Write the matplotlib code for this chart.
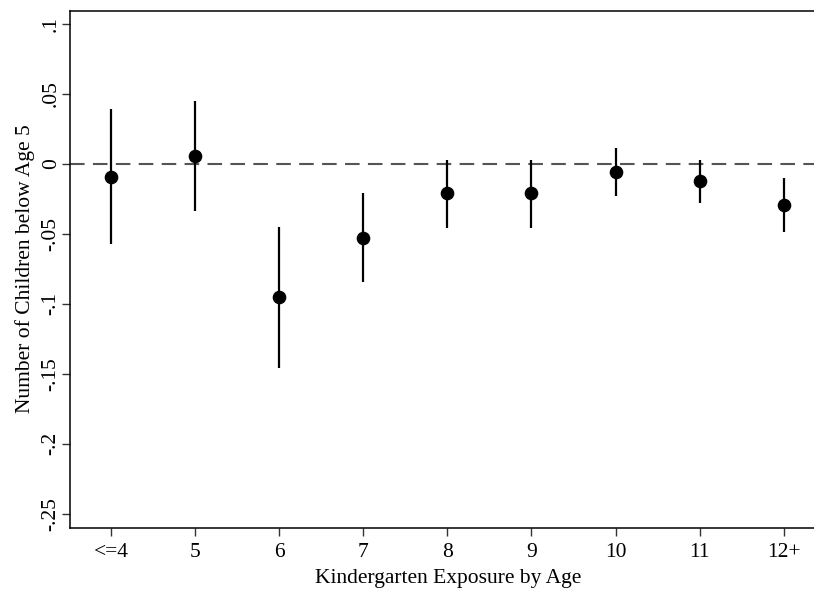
import numpy as np
import matplotlib.pyplot as plt

# kindergarten exposure by age - point estimates and 95% CI
ages = ['<=4', '5', '6', '7', '8', '9', '10', '11', '12+']
coef = [-0.0093, 0.0055, -0.0954, -0.0531, -0.0210, -0.0210, -0.0059, -0.0123, -0.0296]
ci_lo = [-0.057, -0.034, -0.1457, -0.0848, -0.0458, -0.0458, -0.0230, -0.0278, -0.0490]
ci_hi = [0.039, 0.045, -0.0449, -0.0211, 0.0030, 0.0026, 0.0110, 0.0026, -0.0104]
yticks = [0.1, 0.05, 0, -0.05, -0.1, -0.15, -0.2, -0.25]
ytick_labels = ['.1', '.05', '0', '-.05', '-.1', '-.15', '-.2', '-.25']

plt.rcParams['font.family'] = ['Liberation Serif', 'DejaVu Serif']

fig = plt.figure(figsize=(8.14, 5.90), dpi=100)
ax = fig.add_axes([0.0856, 0.1056, 0.929, 0.8766])

x = np.arange(1, len(ages) + 1)
ax.axhline(0, color='#555555', lw=1.5, ls=(0, (7, 4)), zorder=1)
ax.vlines(x, ci_lo, ci_hi, color='black', lw=1.6, zorder=2)
ax.plot(x, coef, 'o', color='black', ms=8.8, zorder=3)

ax.set_xlim(0.51, 9.5)
ax.set_ylim(-0.26, 0.1095)
ax.set_xticks(x)
ax.set_xticklabels(ages, fontsize=15.5)
ax.set_yticks(yticks)
ax.set_yticklabels(ytick_labels, fontsize=15.5, rotation=90, va='center')
ax.tick_params(axis='both', direction='out', length=6, width=1.0, color='#333333')
ax.tick_params(axis='y', pad=0.5)
ax.tick_params(axis='x', pad=5)

for s in ['left', 'bottom', 'top', 'right']:
    ax.spines[s].set_linewidth(1.1)
    ax.spines[s].set_color('black')

ax.set_xlabel('Kindergarten Exposure by Age', fontsize=15.5, labelpad=5)
ax.set_ylabel('Number of Children below Age 5', fontsize=15.5, labelpad=5)

fig.savefig('out.png', dpi=100)
